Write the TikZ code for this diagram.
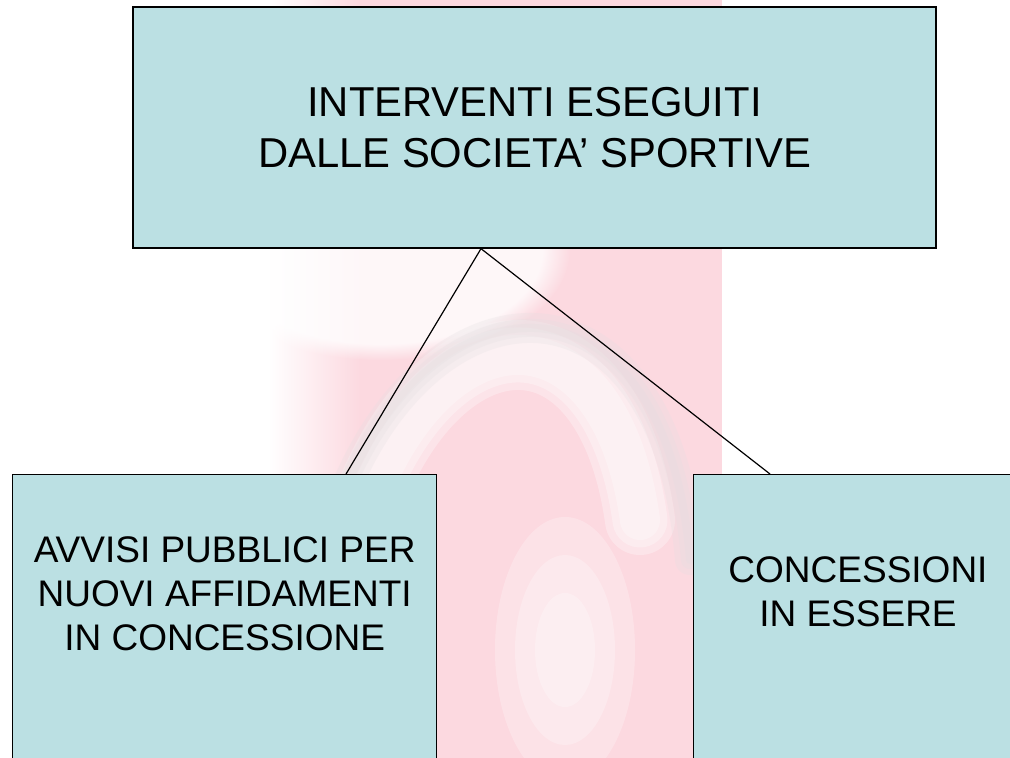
\documentclass[tikz,border=0pt]{standalone}
\usepackage{fontspec}
\setmainfont{Liberation Sans}
\usetikzlibrary{positioning,calc,fadings}

\definecolor{boxfill}{RGB}{187,224,227}
\definecolor{wmpink}{RGB}{252,217,224}
\definecolor{wmgrey}{RGB}{226,222,224}

\begin{document}
\begin{tikzpicture}[x=1pt, y=-1pt, node distance=2cm]
    % Define styles
    \tikzstyle{topbox} = [rectangle, minimum width=803pt, minimum height=241pt, inner sep=0pt, align=center, draw=black, line width=1.3pt, fill=boxfill, font=\fontsize{41.8}{51}\selectfont]
    \tikzstyle{leafbox} = [rectangle, anchor=north west, minimum height=330pt, inner sep=0pt, draw=black, line width=1.3pt, fill=boxfill]
    \tikzstyle{leaftext} = [inner sep=0pt, align=center, anchor=north, font=\fontsize{37}{44}\selectfont]
    \tikzstyle{line} = [line width=1.2pt, black]

    \useasboundingbox (0,0) rectangle (1010,758);

    % Watermark
    \shade[left color=white, right color=wmpink] (268,0) rectangle (360,758);
    \fill[wmpink] (360,0) rectangle (722,758);
    \fill[white, opacity=.8, path fading=circle with fuzzy edge 15 percent] (380,250) ellipse (190 and 110);
    \foreach \w in {70,55,40} {
        \draw[white, opacity=.3, line width=\w pt, line cap=round] (330,758) .. controls (320,330) and (600,230) .. (640,520);
    }
    \foreach \w in {30,18,8} {
        \draw[wmgrey, opacity=.25, line width=\w pt, line cap=round] (305,720) .. controls (300,290) and (660,180) .. (690,560);
    }
    \foreach \w in {70,50,30} {
        \fill[white, opacity=.25] (565,650) ellipse ({\w} and {\w*1.9});
    }

    % Nodes
    \node[topbox] (interventi) at (534.5,127.5) {INTERVENTI ESEGUITI\\DALLE SOCIETA’ SPORTIVE};
    \node[leafbox, minimum width=424pt] (avvisi) at (12,474) {};
    \node[leafbox, minimum width=340pt] (concessioni) at (693,474) {};
    \node[leaftext, below=62pt of avvisi.north] (avvisitext) {AVVISI PUBBLICI PER\\NUOVI AFFIDAMENTI\\IN CONCESSIONE};
    \node[leaftext, below=82pt of concessioni.north west, xshift=165pt] (concessionitext) {CONCESSIONI\\IN ESSERE};

    \coordinate (apex) at ([xshift=-53.5pt]interventi.south);
    \coordinate (avvisitop) at ([xshift=334pt]avvisi.north west);
    \coordinate (concessionitop) at ([xshift=77pt]concessioni.north west);

    % Lines
    \draw[line] (apex) -- (avvisitop);
    \draw[line] (apex) -- (concessionitop);
\end{tikzpicture}
\end{document}
